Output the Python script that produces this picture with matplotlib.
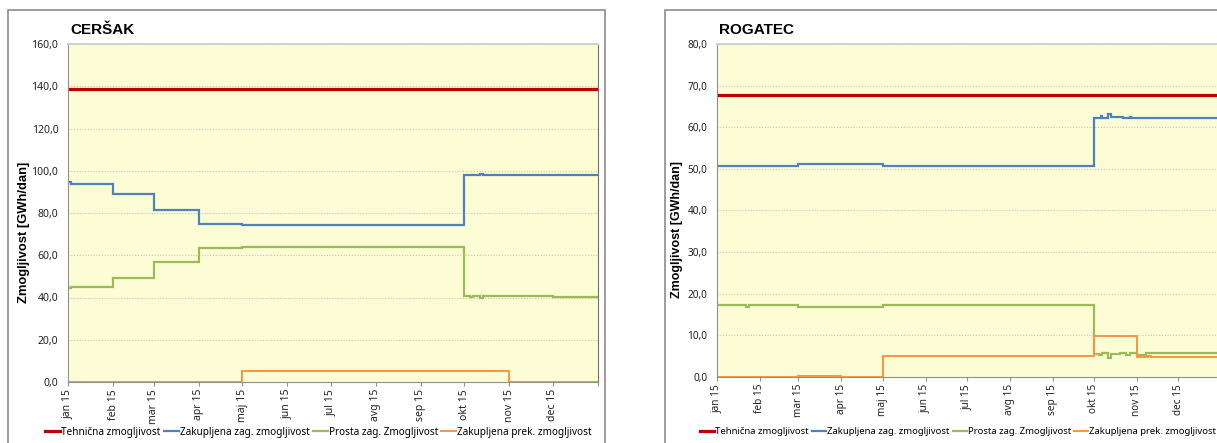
import numpy as np
import pandas as pd
import matplotlib
matplotlib.use('Agg')
import matplotlib.pyplot as plt
import matplotlib.dates as mdates
from matplotlib.patches import Rectangle

plt.rcParams['font.family'] = ['Noto Sans', 'DejaVu Sans']

# ---- data (values change at the listed dates) ----
series_names = ['Tehnična zmogljivost', 'Zakupljena zag. zmogljivost',
                'Prosta zag. Zmogljivost', 'Zakupljena prek. zmogljivost']
series_colors = ['#C00000', '#4F81BD', '#9BBB59', '#F79646']
series_widths = [2.3, 1.6, 1.6, 1.4]

month_labels = ['jan 15', 'feb 15', 'mar 15', 'apr 15', 'maj 15', 'jun 15',
                'jul 15', 'avg 15', 'sep 15', 'okt 15', 'nov 15', 'dec 15']

# CERŠAK
cersak_teh_dates = ['2015-01-01']
cersak_teh_vals = [138.5]
cersak_zak_dates = ['2015-01-01', '2015-01-03', '2015-02-01', '2015-03-01', '2015-04-01',
                    '2015-05-01', '2015-10-01', '2015-10-12', '2015-10-14']
cersak_zak_vals = [94.5, 93.5, 89.0, 81.5, 75.0, 74.5, 98.0, 98.6, 98.0]
cersak_pro_dates = ['2015-01-01', '2015-01-03', '2015-01-22', '2015-01-24', '2015-02-01',
                    '2015-03-01', '2015-04-01', '2015-05-01', '2015-10-01', '2015-10-05',
                    '2015-10-07', '2015-10-12', '2015-10-14', '2015-12-01']
cersak_pro_vals = [44.3, 45.2, 44.8, 45.2, 49.4, 56.9, 63.4, 63.8, 40.7, 40.4,
                   40.7, 39.8, 40.6, 40.3]
cersak_pre_dates = ['2015-01-01', '2015-05-01', '2015-11-01']
cersak_pre_vals = [0.0, 5.0, 0.0]

# ROGATEC
rogatec_teh_dates = ['2015-01-01']
rogatec_teh_vals = [67.8]
rogatec_zak_dates = ['2015-01-01', '2015-03-01', '2015-05-01', '2015-10-01', '2015-10-06',
                     '2015-10-07', '2015-10-11', '2015-10-13', '2015-10-20', '2015-10-22',
                     '2015-10-27', '2015-10-28', '2015-11-05']
rogatec_zak_vals = [50.8, 51.1, 50.8, 62.3, 62.6, 62.3, 63.2, 62.4, 62.5, 62.3,
                    62.5, 62.3, 62.2]
rogatec_pro_dates = ['2015-01-01', '2015-01-22', '2015-01-24', '2015-03-01', '2015-05-01',
                     '2015-10-01', '2015-10-05', '2015-10-07', '2015-10-11', '2015-10-13',
                     '2015-10-20', '2015-10-24', '2015-10-27', '2015-11-01', '2015-11-08']
rogatec_pro_vals = [17.2, 16.9, 17.2, 16.7, 17.2, 5.6, 5.3, 5.7, 4.5, 5.5,
                    5.7, 5.4, 5.7, 5.4, 5.8]
rogatec_pre_dates = ['2015-01-01', '2015-03-01', '2015-04-01', '2015-05-01', '2015-10-01',
                     '2015-11-01', '2015-11-09', '2015-11-11']
rogatec_pre_vals = [0.0, 0.3, 0.0, 5.0, 9.9, 4.7, 5.0, 4.7]

W, H = 1217, 443
START = pd.Timestamp('2015-01-01')
END = pd.Timestamp('2016-01-01')
BOLD_FONT = ['Liberation Sans', 'DejaVu Sans']


def px_box(x0, y0, x1, y1):
    # pixel box (top-left origin) -> figure fraction rect
    return [x0 / W, 1 - y1 / H, (x1 - x0) / W, (y1 - y0) / H]


def step_line(ax, dates, vals, color, lw):
    d = list(pd.to_datetime(dates)) + [END]
    v = list(vals) + [vals[-1]]
    ax.plot(d, v, drawstyle='steps-post', color=color, lw=lw, solid_joinstyle='miter')


def style_axes(ax, ymax, ystep, title, fs, lab_x, lab_y):
    ax.set_facecolor('#FDFDD5')
    ax.set_xlim(START, END)
    ax.set_ylim(0, ymax)
    yt = np.arange(0, ymax + 0.01, ystep)
    ax.set_yticks(yt)
    ax.set_yticklabels([f'{v:.1f}'.replace('.', ',') for v in yt])
    ax.yaxis.grid(True, linestyle=(0, (1, 1.5)), color='#c4c4b4', lw=0.8)
    ax.set_axisbelow(True)
    ax.xaxis.set_major_locator(mdates.MonthLocator())
    ax.set_xticklabels(month_labels, rotation=90)
    ax.tick_params(axis='y', length=0, pad=7, labelsize=fs, labelcolor='#222222')
    ax.tick_params(axis='x', length=3, color='#909090', pad=2, labelsize=fs, labelcolor='#222222')
    for s in ['left', 'bottom']:
        ax.spines[s].set_color('#909090')
    ax.spines['top'].set_color('#d0d0d0')
    ax.spines['top'].set_linewidth(1.5)
    ax.spines['right'].set_color('#707070')
    ax.set_ylabel('Zmogljivost [GWh/dan]', fontsize=fs * 1.25, fontweight='bold',
                  family=BOLD_FONT)
    ax.yaxis.set_label_coords(lab_x, lab_y)
    ax.text(0.004, 1 + 7 / ax.bbox.height, title, transform=ax.transAxes, fontsize=11,
            fontweight='bold', ha='left', va='bottom', family=BOLD_FONT)


fig = plt.figure(figsize=(W / 100, H / 100), dpi=100)

# chart frames
fig.patches.append(Rectangle((8 / W, -0.1), (605 - 8) / W, 1.1 - 10 / H, transform=fig.transFigure,
                             fill=False, edgecolor='#8c8c8c', lw=1.2))
fig.patches.append(Rectangle((665 / W, -0.1), 0.6, 1.1 - 10 / H, transform=fig.transFigure,
                             fill=False, edgecolor='#8c8c8c', lw=1.2))

ax1 = fig.add_axes(px_box(68, 44, 598, 382))
ax2 = fig.add_axes(px_box(717, 44, 1221, 377))

panels = [
    (ax1, [(cersak_teh_dates, cersak_teh_vals), (cersak_zak_dates, cersak_zak_vals),
           (cersak_pro_dates, cersak_pro_vals), (cersak_pre_dates, cersak_pre_vals)]),
    (ax2, [(rogatec_teh_dates, rogatec_teh_vals), (rogatec_zak_dates, rogatec_zak_vals),
           (rogatec_pro_dates, rogatec_pro_vals), (rogatec_pre_dates, rogatec_pre_vals)]),
]
for ax, data in panels:
    for (d, v), c, lw in zip(data, series_colors, series_widths):
        step_line(ax, d, v, c, lw)

style_axes(ax1, 160, 20, 'CERŠAK', 7.5, (30 - 68) / 530, (382 - 232) / 338)
style_axes(ax2, 80, 10, 'ROGATEC', 7.2, (683 - 717) / 504, (377 - 230) / 333)

for ax, lx, fs in [(ax1, 45, 7.2), (ax2, 700, 6.85)]:
    fig.legend(ax.get_lines(), series_names, loc='center left', bbox_to_anchor=(lx / W, 1 - 432 / H),
               ncol=4, frameon=False, fontsize=fs, handlelength=1.5, handletextpad=0.12,
               columnspacing=0.3, borderaxespad=0, borderpad=0)

fig.savefig('out.png', dpi=100)
